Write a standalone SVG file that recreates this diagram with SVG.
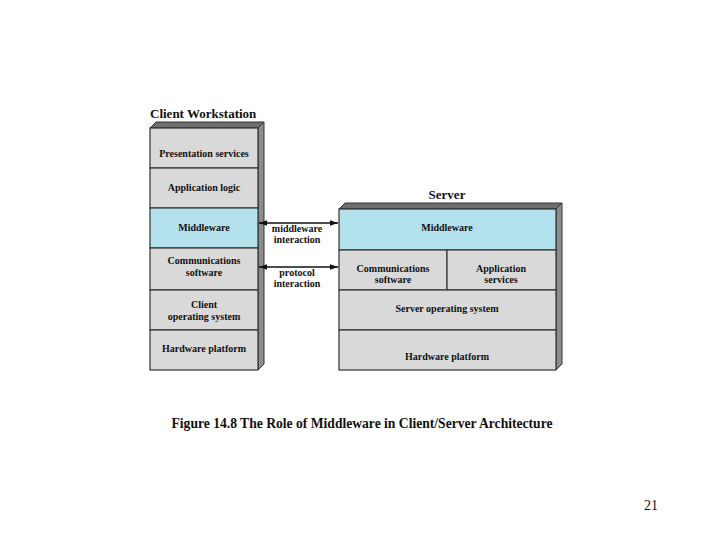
<svg xmlns="http://www.w3.org/2000/svg" width="720" height="540" viewBox="0 0 720 540">
<defs>
<style>
.g{fill:#d9d9d9;stroke:#333;stroke-width:1.2}
.b{fill:#b3e1ec;stroke:#333;stroke-width:1.2}
.s{fill:#8c8c8c;stroke:#333;stroke-width:1}
.t{fill:#6e6e6e;stroke:#333;stroke-width:1}
.l{font-family:"Liberation Serif",serif;font-weight:bold;font-size:10px;fill:#111;text-anchor:middle}
.h{font-family:"Liberation Serif",serif;font-weight:bold;font-size:13px;fill:#111}
.c{stroke:#111;stroke-width:1.3;fill:none}
</style>
<marker id="ah" viewBox="0 0 10 10" refX="10" refY="5" markerWidth="8" markerHeight="8" orient="auto-start-reverse" markerUnits="userSpaceOnUse">
<path d="M0,1.5 L10,5 L0,8.5 Z" fill="#111"/>
</marker>
</defs>
<rect width="720" height="540" fill="#fff"/>

<g id="client">
<text class="h" x="150" y="118">Client Workstation</text>
<polygon class="t" points="150,128 156,122 264,122 258,128"/>
<polygon class="s" points="258,128 264,122 264,364 258,370"/>
<g id="c-pres"><rect class="g" x="150" y="128" width="108" height="40"/><text class="l" x="204" y="157">Presentation services</text></g>
<g id="c-app"><rect class="g" x="150" y="168" width="108" height="40"/><text class="l" x="204" y="191">Application logic</text></g>
<g id="c-mid"><rect class="b" x="150" y="208" width="108" height="40"/><text class="l" x="204" y="231">Middleware</text></g>
<g id="c-comm"><rect class="g" x="150" y="248" width="108" height="42"/><text class="l" x="204" y="264">Communications</text><text class="l" x="204" y="276">software</text></g>
<g id="c-os"><rect class="g" x="150" y="290" width="108" height="40"/><text class="l" x="204" y="308">Client</text><text class="l" x="204" y="320">operating system</text></g>
<g id="c-hw"><rect class="g" x="150" y="330" width="108" height="40"/><text class="l" x="204" y="352">Hardware platform</text></g>
</g>

<g id="server">
<text class="h" x="447" y="199" text-anchor="middle">Server</text>
<polygon class="t" points="339,209 345,203 562,203 556,209"/>
<polygon class="s" points="556,209 562,203 562,364 556,370"/>
<g id="s-mid"><rect class="b" x="339" y="209" width="217" height="41"/><text class="l" x="447" y="231">Middleware</text></g>
<g id="s-comm"><rect class="g" x="339" y="250" width="108" height="40"/><text class="l" x="393" y="272">Communications</text><text class="l" x="393" y="283">software</text></g>
<g id="s-app"><rect class="g" x="447" y="250" width="109" height="40"/><text class="l" x="501" y="272">Application</text><text class="l" x="501" y="283">services</text></g>
<g id="s-os"><rect class="g" x="339" y="290" width="217" height="40"/><text class="l" x="447" y="312">Server operating system</text></g>
<g id="s-hw"><rect class="g" x="339" y="330" width="217" height="40"/><text class="l" x="447" y="360">Hardware platform</text></g>
</g>

<g id="connectors">
<line class="c" x1="259" y1="223" x2="338" y2="223" marker-start="url(#ah)" marker-end="url(#ah)"/>
<line class="c" x1="259" y1="267" x2="338" y2="267" marker-start="url(#ah)" marker-end="url(#ah)"/>
<text class="l" x="297" y="232">middleware</text>
<text class="l" x="297" y="243">interaction</text>
<text class="l" x="297" y="276">protocol</text>
<text class="l" x="297" y="287">interaction</text>
</g>

<text class="h" x="362" y="428" text-anchor="middle" style="font-size:13.6px">Figure 14.8 The Role of Middleware in Client/Server Architecture</text>
<text x="651" y="510" font-family="Liberation Serif,serif" font-size="14" text-anchor="middle" fill="#111">21</text>
</svg>
